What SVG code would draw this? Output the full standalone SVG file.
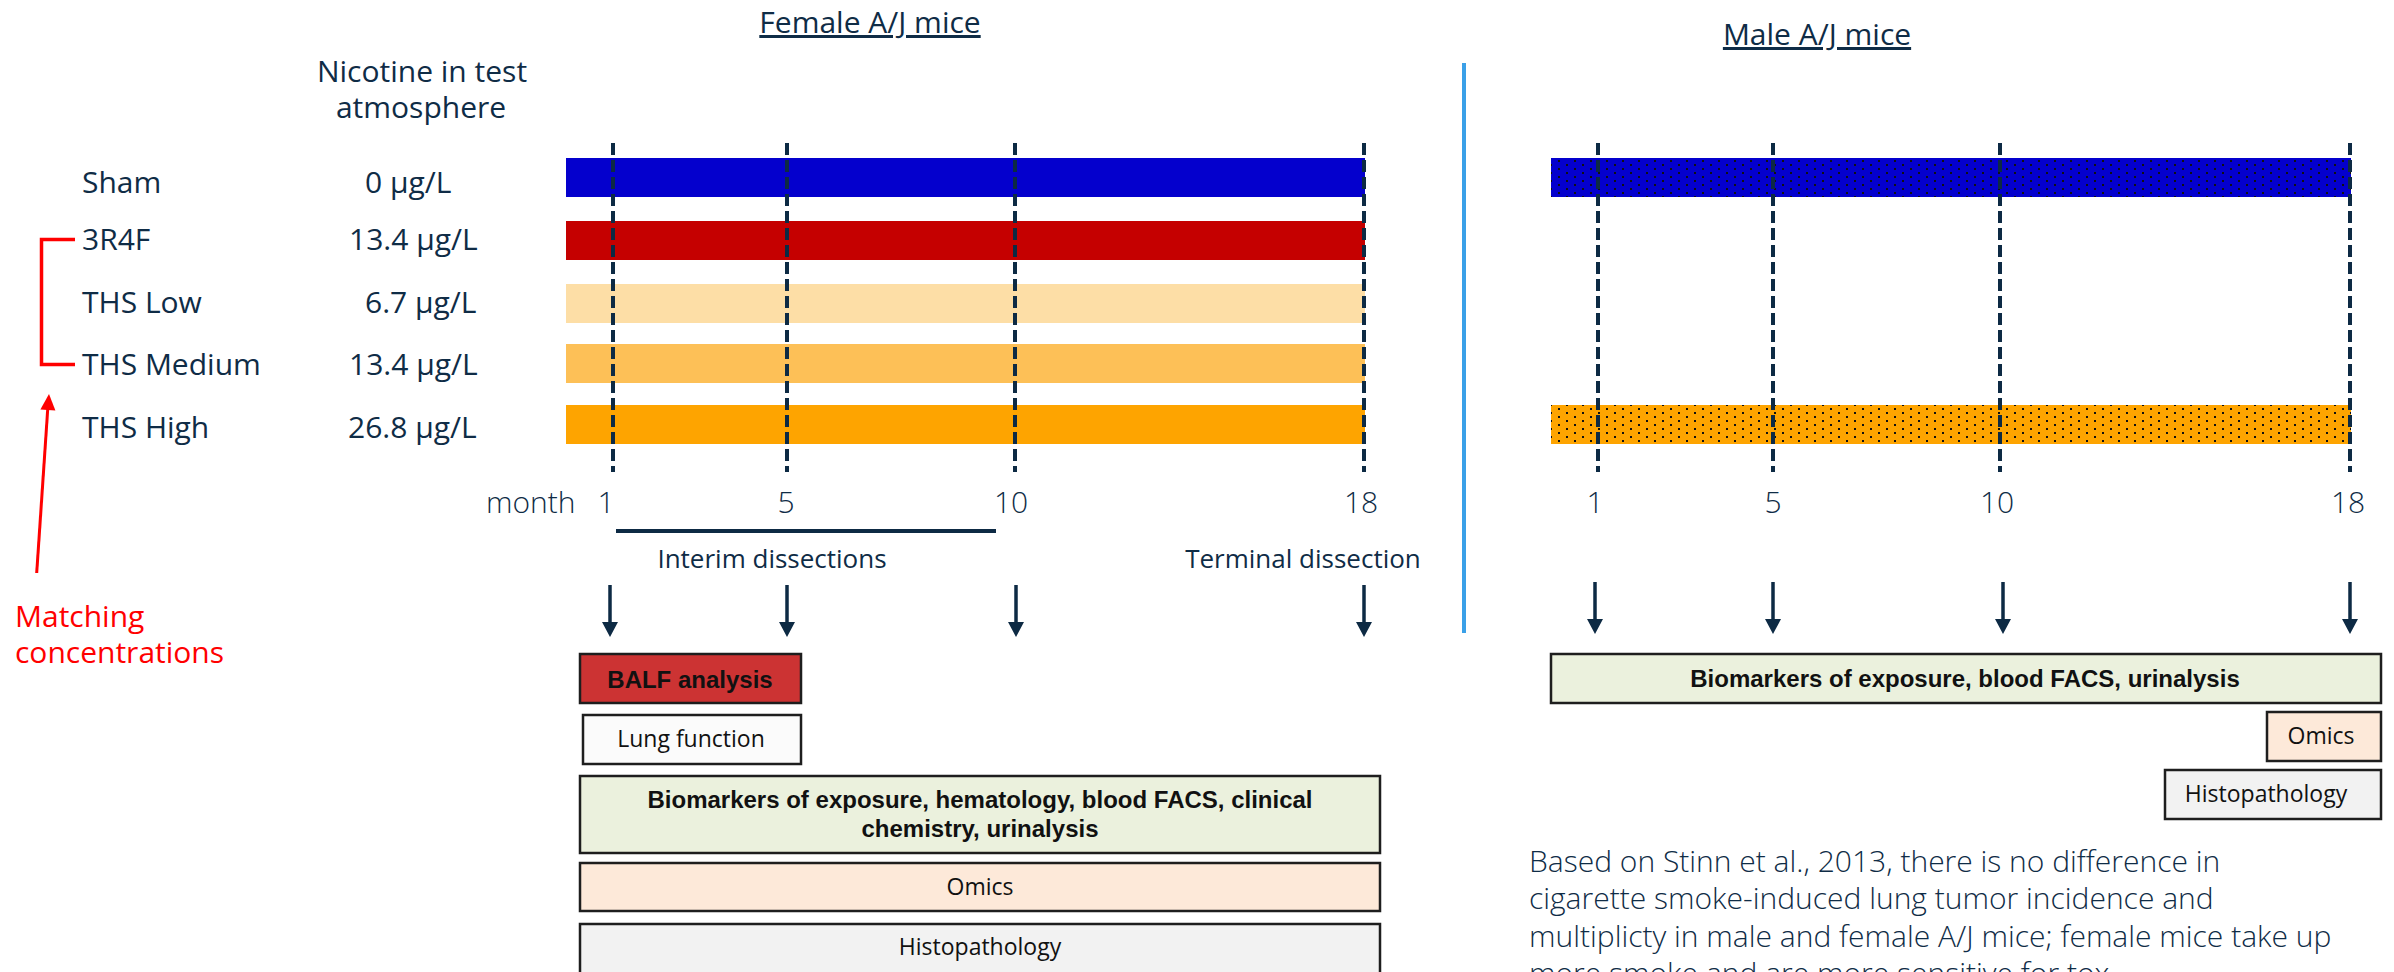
<svg xmlns="http://www.w3.org/2000/svg" width="2394" height="972" viewBox="0 0 2394 972">
<style>
.lbl{font-family:"Open Sans","Liberation Sans",sans-serif;font-size:30px;fill:#0f2c46}
.lt{font-family:"Open Sans","Liberation Sans",sans-serif;font-size:30px;font-weight:300;fill:#0f2c46}
.sm{font-family:"Open Sans","Liberation Sans",sans-serif;font-size:26px;fill:#0f2c46}
.bx{font-family:"Open Sans","Liberation Sans",sans-serif;font-size:23px;fill:#111}
.bb{font-family:"Liberation Sans",Arial,sans-serif;font-size:24px;font-weight:bold;fill:#111}
.red{font-family:"Open Sans","Liberation Sans",sans-serif;font-size:30px;fill:#ff0000}
.dash{stroke:#0d2a44;stroke-width:4;stroke-dasharray:12 5;fill:none}
.arr{stroke:#0d2a44;stroke-width:3.5;fill:none}
.box{stroke:#1e1e1e;stroke-width:2.5}
.c{text-anchor:middle}
</style>
<defs>
<pattern id="dots" x="6" y="0" width="16" height="8" patternUnits="userSpaceOnUse">
<rect x="0" y="0" width="2" height="2" fill="#111"/>
<rect x="8" y="4" width="2" height="2" fill="#111"/>
</pattern>
<marker id="ah" markerUnits="userSpaceOnUse" markerWidth="16" markerHeight="16" refX="8" refY="0" orient="0" viewBox="0 0 16 16">
<path d="M0,0 L16,0 L8,15 Z" fill="#0d2a44"/>
</marker>
</defs>
<rect width="2394" height="972" fill="#ffffff"/>

<g id="titles">
<text id="female-title" class="lbl c" x="870" y="33" style="text-decoration:underline">Female A/J mice</text>
<text id="male-title" class="lbl c" x="1817" y="45" style="text-decoration:underline">Male A/J mice</text>
<text id="nicotine-header-1" class="lbl c" x="422" y="82">Nicotine in test</text>
<text id="nicotine-header-2" class="lbl c" x="421" y="118">atmosphere</text>
</g>

<g id="row-labels">
<text id="lbl-sham" class="lbl" x="82" y="193">Sham</text>
<text id="lbl-3r4f" class="lbl" x="82" y="250">3R4F</text>
<text id="lbl-ths-low" class="lbl" x="82" y="313">THS Low</text>
<text id="lbl-ths-med" class="lbl" x="82" y="375">THS Medium</text>
<text id="lbl-ths-high" class="lbl" x="82" y="438">THS High</text>
<text id="conc-sham" class="lbl" x="365" y="193">0 µg/L</text>
<text id="conc-3r4f" class="lbl" x="349" y="250">13.4 µg/L</text>
<text id="conc-low" class="lbl" x="365" y="313">6.7 µg/L</text>
<text id="conc-med" class="lbl" x="349" y="375">13.4 µg/L</text>
<text id="conc-high" class="lbl" x="348" y="438">26.8 µg/L</text>
</g>

<g id="female-bars">
<rect id="f-sham" x="566" y="158" width="799" height="39" fill="#0400cd"/>
<rect id="f-3r4f" x="566" y="221" width="799" height="39" fill="#c50000"/>
<rect id="f-low" x="566" y="284" width="799" height="39" fill="#fddea6"/>
<rect id="f-med" x="566" y="344" width="799" height="39" fill="#fdc057"/>
<rect id="f-high" x="566" y="405" width="799" height="39" fill="#fea400"/>
</g>

<g id="male-bars">
<g id="m-sham"><rect x="1551" y="158" width="800" height="39" fill="#0400cd"/><rect x="1551" y="158" width="800" height="39" fill="url(#dots)"/></g>
<g id="m-high"><rect x="1551" y="405" width="800" height="39" fill="#fea400"/><rect x="1551" y="405" width="800" height="39" fill="url(#dots)"/></g>
</g>

<g id="separator">
<line x1="1464" y1="63" x2="1464" y2="633" stroke="#3aa0e8" stroke-width="4"/>
</g>

<g id="month-labels">
<text id="month" class="lt" x="486" y="513">month</text>
<text class="lt c" x="606" y="513">1</text>
<text class="lt c" x="786" y="513">5</text>
<text class="lt c" x="1011" y="513">10</text>
<text class="lt c" x="1361" y="513">18</text>
<text class="lt c" x="1595" y="513">1</text>
<text class="lt c" x="1773" y="513">5</text>
<text class="lt c" x="1997" y="513">10</text>
<text class="lt c" x="2348" y="513">18</text>
<text id="interim" class="sm c" x="772" y="568">Interim dissections</text>
<text id="terminal" class="sm c" x="1303" y="568">Terminal dissection</text>
</g>

<g id="connectors">
<line class="dash" x1="613" y1="143" x2="613" y2="472"/>
<line class="dash" x1="787" y1="143" x2="787" y2="472"/>
<line class="dash" x1="1015" y1="143" x2="1015" y2="472"/>
<line class="dash" x1="1364" y1="143" x2="1364" y2="472"/>
<line class="dash" x1="1598" y1="143" x2="1598" y2="472"/>
<line class="dash" x1="1773" y1="143" x2="1773" y2="472"/>
<line class="dash" x1="2000" y1="143" x2="2000" y2="472"/>
<line class="dash" x1="2350" y1="143" x2="2350" y2="472"/>
<line id="interim-bar" x1="616" y1="531" x2="996" y2="531" stroke="#0d2a44" stroke-width="4"/>
<line class="arr" x1="610" y1="585" x2="610" y2="622" marker-end="url(#ah)"/>
<line class="arr" x1="787" y1="585" x2="787" y2="622" marker-end="url(#ah)"/>
<line class="arr" x1="1016" y1="585" x2="1016" y2="622" marker-end="url(#ah)"/>
<line class="arr" x1="1364" y1="585" x2="1364" y2="622" marker-end="url(#ah)"/>
<line class="arr" x1="1595" y1="582" x2="1595" y2="619" marker-end="url(#ah)"/>
<line class="arr" x1="1773" y1="582" x2="1773" y2="619" marker-end="url(#ah)"/>
<line class="arr" x1="2003" y1="582" x2="2003" y2="619" marker-end="url(#ah)"/>
<line class="arr" x1="2350" y1="582" x2="2350" y2="619" marker-end="url(#ah)"/>
<path id="bracket" d="M75,239.5 H41.5 V364.5 H75" fill="none" stroke="#ff0000" stroke-width="3.5"/>
<g id="match-arrow">
<line x1="36.7" y1="573" x2="47.8" y2="408" stroke="#ff0000" stroke-width="3"/>
<polygon points="49,394 55.4,410.5 40.4,409.5" fill="#ff0000"/>
</g>
</g>

<g id="matching-label">
<text class="red" x="15" y="627">Matching</text>
<text class="red" x="15" y="663">concentrations</text>
</g>

<g id="female-boxes">
<g id="balf"><rect class="box" x="580" y="654" width="221" height="49" fill="#cc3333"/><text class="bb c" x="690" y="688">BALF analysis</text></g>
<g id="lung"><rect class="box" x="583" y="715" width="218" height="49" fill="#fbfbfb"/><text class="bx c" x="691" y="747">Lung function</text></g>
<g id="f-biomarkers"><rect class="box" x="580" y="776" width="800" height="77" fill="#ebf1dd"/><text class="bb c" x="980" y="808">Biomarkers of exposure, hematology, blood FACS, clinical</text><text class="bb c" x="980" y="837">chemistry, urinalysis</text></g>
<g id="f-omics"><rect class="box" x="580" y="863" width="800" height="48" fill="#fde9d9"/><text class="bx c" x="980" y="895">Omics</text></g>
<g id="f-histo"><rect class="box" x="580" y="924" width="800" height="60" fill="#f2f2f2"/><text class="bx c" x="980" y="955">Histopathology</text></g>
</g>

<g id="male-boxes">
<g id="m-biomarkers"><rect class="box" x="1551" y="654" width="830" height="49" fill="#ebf1dd"/><text class="bb c" x="1965" y="687">Biomarkers of exposure, blood FACS, urinalysis</text></g>
<g id="m-omics"><rect class="box" x="2267" y="712" width="114" height="49" fill="#fde9d9"/><text class="bx c" x="2321" y="744">Omics</text></g>
<g id="m-histo"><rect class="box" x="2165" y="770" width="216" height="49" fill="#f2f2f2"/><text class="bx c" x="2266" y="802">Histopathology</text></g>
</g>

<g id="note">
<text class="lt" x="1529" y="872">Based on Stinn et al., 2013, there is no difference in</text>
<text class="lt" x="1529" y="909">cigarette smoke-induced lung tumor incidence and</text>
<text class="lt" x="1529" y="947">multiplicty in male and female A/J mice; female mice take up</text>
<text class="lt" x="1529" y="984">more smoke and are more sensitive for tox</text>
</g>
</svg>
